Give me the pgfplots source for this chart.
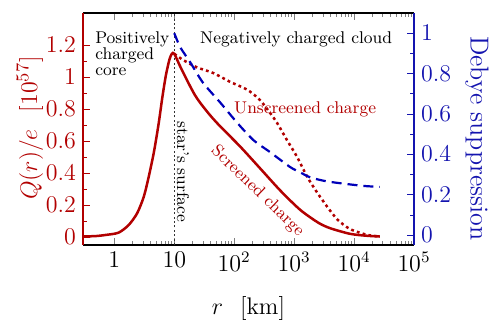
\documentclass[border=0pt]{standalone}
\usepackage{pgfplots}
\pgfplotsset{compat=1.18}
\definecolor{qred}{RGB}{178,0,0}
\definecolor{qblue}{RGB}{20,20,175}
\definecolor{lblue}{RGB}{0,0,185}

\begin{document}
\begin{tikzpicture}
\useasboundingbox (-41.5pt,-42.5pt) rectangle (207.5pt,122.5pt);

% left axis: charge
\begin{axis}[
  scale only axis, width=165.5pt, height=116pt,
  xmode=log, xmin=0.3, xmax=1e5,
  ymin=-0.05, ymax=1.4,
  axis y line*=left,
  xtick={1,10,100,1000,10000,100000},
  xticklabels={$1$,$10$,$10^2$,$10^3$,$10^4$,$10^5$},
  ytick={0,0.2,0.4,0.6,0.8,1,1.2},
  minor y tick num=1,
  tick align=inside,
  major tick length=3.5pt, minor tick length=2pt,
  axis line style={line width=0.8pt},
  y axis line style={draw=qred},
  y tick style={draw=qred},
  yticklabel style={text=qred},
  ticklabel style={font=\fontsize{12}{12}\selectfont},
  clip=false,
]
\addplot[black!80, line width=0.6pt, dash pattern=on 1pt off 1.2pt] coordinates {(10,-0.05) (10,1.4)};

% screened charge
\addplot[qred, line width=1.25pt, smooth, tension=0.45] coordinates {
(0.3,0.003) (0.5,0.006) (0.708,0.0125) (1.175,0.027) (1.738,0.075)
(2.399,0.148) (3.09,0.25) (3.715,0.37) (4.571,0.53) (5.495,0.71)
(6.31,0.87) (7.244,1.01) (8.318,1.11) (9.12,1.145) (10,1.145)
(12.59,1.065) (17.38,0.96) (21.88,0.89) (26.9,0.84) (39.8,0.76)
(58.9,0.69) (126,0.565) (269,0.43) (589,0.29) (1259,0.17) (2512,0.09)
(3981,0.055) (8511,0.02) (15849,0.008) (26915,0.003)};

% unscreened charge
\addplot[qred, line width=1.25pt, dash pattern=on 1.4pt off 1.6pt, smooth, tension=0.45] coordinates {
(10,1.145) (14.1,1.106) (24,1.06) (44.7,1.025) (85,0.97) (166,0.92)
(269,0.856) (398,0.775) (525,0.71) (759,0.606) (1122,0.5) (1660,0.375)
(2399,0.28) (3548,0.19) (5248,0.11) (8511,0.05) (16596,0.013) (26915,0.004)};

\node[anchor=north west, inner sep=0pt, align=left, font=\fontsize{8.5}{8}\selectfont]
  at (rel axis cs:0.036,0.922) {Positively\\charged\\core};
\node[anchor=north west, inner sep=0pt, font=\fontsize{8.5}{8}\selectfont]
  at (rel axis cs:0.353,0.922) {Negatively charged cloud};
\node[rotate=-90, inner sep=0pt, font=\fontsize{8.5}{8}\selectfont]
  at (rel axis cs:0.302,0.315) {star's surface};
\node[text=qred, inner sep=0pt, font=\fontsize{8.5}{8}\selectfont]
  at (rel axis cs:0.671,0.586) {Unscreened charge};
\node[text=qred, rotate=-44, inner sep=0pt, font=\fontsize{8.5}{8}\selectfont]
  at (rel axis cs:0.527,0.232) {Screened charge};

\node[rotate=90, text=qred, font=\fontsize{13}{13}\selectfont]
  at (rel axis cs:-0.160,0.504) {$Q(r)/e\ \ [10^{57}]$};
\node[font=\fontsize{13}{13}\selectfont]
  at (rel axis cs:0.5,-0.272) {$r\ \ [\mathrm{km}]$};
\node[rotate=-90, text=qblue, font=\fontsize{13}{13}\selectfont]
  at (rel axis cs:1.190,0.46) {Debye suppression};
\end{axis}

% right axis: Debye suppression
\begin{axis}[
  scale only axis, width=165.5pt, height=116pt,
  xmode=log, xmin=0.3, xmax=1e5,
  ymin=-0.05, ymax=1.1,
  hide x axis,
  axis y line*=right,
  ytick={0,0.2,0.4,0.6,0.8,1},
  minor y tick num=1,
  tick align=inside,
  major tick length=3.5pt, minor tick length=2pt,
  axis line style={line width=0.8pt},
  y axis line style={draw=qblue},
  y tick style={draw=qblue},
  yticklabel style={text=qblue},
  ticklabel style={font=\fontsize{12}{12}\selectfont},
  clip=false,
]
\addplot[lblue, line width=1.1pt, dash pattern=on 5pt off 3pt, smooth, tension=0.45] coordinates {
(10,1.0) (12.6,0.93) (18.6,0.854) (30.2,0.754) (58.9,0.655) (112,0.556)
(209,0.47) (398,0.41) (851,0.337) (1259,0.31) (1862,0.285) (3162,0.268)
(5248,0.258) (14125,0.243) (26915,0.238)};
\end{axis}
\end{tikzpicture}
\end{document}
